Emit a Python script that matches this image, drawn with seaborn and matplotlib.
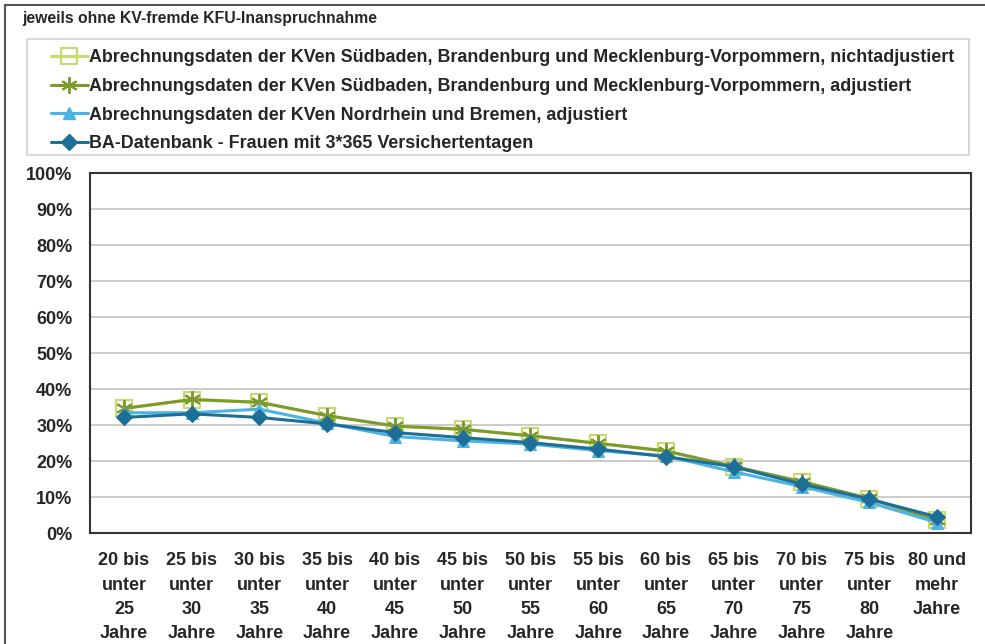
import matplotlib
matplotlib.use("Agg")
import matplotlib.pyplot as plt
from matplotlib.patches import Rectangle
from matplotlib.lines import Line2D
from matplotlib.ticker import FixedLocator, NullFormatter
import seaborn as sns
import pandas as pd
import numpy as np

# ---------------- data ----------------
categories = ["20 bis\nunter\n25\nJahre", "25 bis\nunter\n30\nJahre", "30 bis\nunter\n35\nJahre",
              "35 bis\nunter\n40\nJahre", "40 bis\nunter\n45\nJahre", "45 bis\nunter\n50\nJahre",
              "50 bis\nunter\n55\nJahre", "55 bis\nunter\n60\nJahre", "60 bis\nunter\n65\nJahre",
              "65 bis\nunter\n70\nJahre", "70 bis\nunter\n75\nJahre", "75 bis\nunter\n80\nJahre",
              "80 und\nmehr\nJahre"]
series_names = [
    "Abrechnungsdaten der KVen Südbaden, Brandenburg und Mecklenburg-Vorpommern, nichtadjustiert",
    "Abrechnungsdaten der KVen Südbaden, Brandenburg und Mecklenburg-Vorpommern, adjustiert",
    "Abrechnungsdaten der KVen Nordrhein und Bremen, adjustiert",
    "BA-Datenbank - Frauen mit 3*365 Versichertentagen",
]
sued_nichtadj = [34.6, 37.0, 36.3, 32.6, 29.7, 28.8, 27.0, 24.9, 22.7, 18.4, 14.2, 9.5, 3.5]
sued_adj = [34.6, 37.1, 36.3, 32.6, 29.7, 28.8, 27.0, 24.9, 22.8, 18.5, 14.3, 9.6, 3.6]
nordrhein_adj = [33.4, 33.4, 34.4, 30.5, 26.8, 25.6, 24.7, 22.9, 21.4, 17.0, 12.9, 8.5, 2.9]
ba_datenbank = [32.1, 33.1, 32.1, 30.3, 27.9, 26.5, 25.1, 23.3, 21.2, 18.4, 13.6, 9.4, 4.5]
title_text = "jeweils ohne KV-fremde KFU-Inanspruchnahme"
ytick_values = list(range(0, 101, 10))
ytick_labels = [f"{v}%" for v in ytick_values]

all_values = [sued_nichtadj, sued_adj, nordrhein_adj, ba_datenbank]
df = pd.concat([
    pd.DataFrame({"x": np.arange(len(categories)), "value": vals, "series": name})
    for name, vals in zip(series_names, all_values)
], ignore_index=True)

# ---------------- style ----------------
sns.set_style("white")
plt.rcParams["font.family"] = ["Liberation Sans", "DejaVu Sans"]
plt.rcParams["font.weight"] = "bold"
FS = 13

colors = ["#c5da70", "#7d9a2c", "#4db3e2", "#1d6f97"]
styles = [
    dict(marker="s", markersize=11, markerfacecolor="none", markeredgecolor=colors[0], markeredgewidth=1.5),
    dict(marker=(6, 2, 0), markersize=12, markeredgecolor=colors[1], markeredgewidth=1.4),
    dict(marker="^", markersize=8.5, markerfacecolor=colors[2], markeredgecolor=colors[2]),
    dict(marker="D", markersize=8.5, markerfacecolor=colors[3], markeredgecolor=colors[3]),
]

W, H = 985, 644
fig = plt.figure(figsize=(W / 100, H / 100), dpi=100)
ax = fig.add_axes([90 / W, 1 - 533 / H, (971 - 90) / W, (533 - 173) / H])

handles = []
for i, name in enumerate(series_names):
    sub = df[df["series"] == name]
    sns.lineplot(data=sub, x="x", y="value", ax=ax, color=colors[i], linewidth=2.2,
                 legend=False, zorder=3 + i, **styles[i])
    handles.append(Line2D([0], [0], color=colors[i], linewidth=2.2, **styles[i]))

ax.set_xlim(-0.5, len(categories) - 0.5)
ax.set_ylim(0, 100)
ax.set_xlabel("")
ax.set_ylabel("")

ax.set_yticks(ytick_values)
ax.set_yticklabels(ytick_labels, fontsize=FS, fontweight="bold")
ax.set_xticks(np.arange(len(categories)))
ax.set_xticklabels(categories, fontsize=FS, fontweight="bold", linespacing=1.55)
ax.xaxis.set_minor_locator(FixedLocator(np.arange(-0.5, len(categories), 1.0)))
ax.xaxis.set_minor_formatter(NullFormatter())
ax.tick_params(axis="x", which="major", length=0, pad=14)
ax.tick_params(axis="x", which="minor", length=4.3, width=1, color="#999999", direction="out")
ax.tick_params(axis="y", which="major", length=3.6, width=1, color="#999999", direction="out", pad=9)

ax.grid(axis="y", color="#c8c8c8", linewidth=1.3)
ax.set_axisbelow(True)
for s in ax.spines.values():
    s.set_visible(True)
    s.set_color("#333333")
    s.set_linewidth(1.5)

# title
fig.text(22 / W, 1 - 18 / H, title_text, fontsize=11.3, fontweight="bold", ha="left", va="center")

# legend frame and legend
fig.patches.append(Rectangle((27 / W, 1 - 155 / H), (969 - 27) / W, (155 - 39) / H,
                             transform=fig.transFigure, fill=False, edgecolor="#cfcfcf", linewidth=1.2))
fig.legend(handles, series_names, loc="upper left", bbox_to_anchor=(42 / W, 1 - 40 / H),
           bbox_transform=fig.transFigure, frameon=False, borderpad=0, handlelength=2.05,
           handletextpad=0.1, labelspacing=0.66, prop=dict(size=12.9, weight="bold"))

# outer border (top and left visible)
fig.patches.append(Rectangle((5 / W, -0.1), 1.2, 1 - 5 / H + 0.1, transform=fig.transFigure,
                             fill=False, edgecolor="#555555", linewidth=1.5))

fig.savefig("out.png", dpi=100)
